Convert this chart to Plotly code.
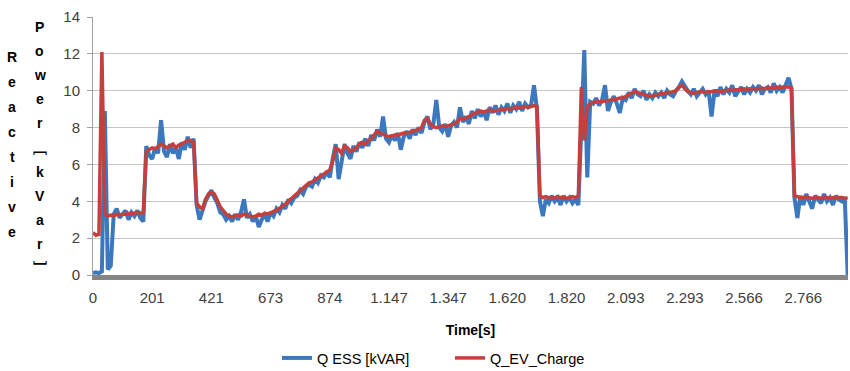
import plotly.graph_objects as go

# Sample labels shown on the category-style time axis (one label every 20 samples)
time_labels = ["0", "201", "421", "673", "874", "1.147", "1.347", "1.620",
               "1.820", "2.093", "2.293", "2.566", "2.766"]
samples_per_label = 20

# Q ESS [kVAR] - measured reactive power of the storage system
q_ess = [
    0.1, 0.15, 0.1, 0.2, 8.9, 0.3, 0.5, 3.3,
    3.6, 3.1, 3.3, 3.5, 3.0, 3.4, 3.2, 3.5, 3.1, 2.9,
    7.0, 6.5, 6.3, 6.9, 6.6, 8.4, 6.7, 6.4, 7.1, 6.6, 6.9, 6.3, 7.2, 6.8, 7.5, 6.9, 7.4,
    3.8, 3.0, 3.5, 4.0, 4.3, 4.6, 4.2, 3.9, 3.4, 3.3, 3.0, 3.2,
    2.9, 3.3, 3.0, 3.4, 4.1, 3.1, 3.3, 2.9, 3.2, 2.6, 3.0, 3.3, 2.9, 3.4,
    3.2, 3.6, 3.4, 3.8, 3.6, 4.1, 3.9, 4.2, 4.3, 4.6, 4.4, 4.8, 4.9, 4.8, 5.2, 5.0,
    5.4, 5.3, 5.6, 5.3, 6.3, 7.1,
    5.2, 6.2, 7.1, 6.6, 6.3, 7.0, 6.7, 7.2, 6.9, 7.4, 7.0, 7.6, 7.3,
    7.9, 7.5, 8.6, 7.4, 7.2, 7.6, 7.3, 7.7, 6.8, 7.5,
    7.8, 7.4, 7.9, 7.6, 8.0, 7.7, 8.3, 8.6, 7.9, 8.2,
    9.5, 8.0, 7.8, 8.2, 7.5, 8.1, 8.3, 8.0, 9.1,
    8.3, 8.6, 8.2, 8.9, 8.5, 9.0, 8.6, 8.9, 8.4, 9.1, 8.8, 9.2, 8.7, 9.1, 8.9, 9.3,
    8.8, 9.2, 9.0, 9.4, 8.9, 9.3, 9.1, 9.2, 10.3, 9.0,
    4.0, 3.2, 4.1, 3.9, 4.3, 4.0, 4.2, 3.8, 4.3, 4.0, 4.2, 3.9, 4.1, 3.8,
    7.5, 12.2, 5.3, 9.4,
    9.3, 9.6, 9.2, 9.5, 10.3, 8.9, 9.4, 9.7, 9.3, 8.8,
    9.6, 9.5, 9.9, 9.6, 10.1, 9.8, 9.7, 10.0, 9.5, 9.8,
    9.6, 9.9, 9.7, 9.9, 9.6, 10.0, 9.8, 9.7, 10.0, 10.2,
    10.5, 10.2, 10.0, 9.8, 10.1, 9.7, 9.9, 10.1, 9.8, 10.0, 8.6,
    10.0, 9.7, 10.2, 9.8, 10.1, 9.9, 10.3, 9.7, 10.0, 10.2,
    9.8, 10.1, 9.9, 10.2, 10.0, 10.3, 9.8, 10.1, 10.2, 9.9,
    10.4, 10.0, 10.2, 9.9, 10.3, 10.7, 10.1,
    4.2, 3.1, 4.3, 3.8, 4.4, 4.0, 3.6, 4.3, 4.1, 3.9, 4.4, 4.0, 4.2, 3.8, 4.3, 4.1,
    4.0, 4.2, 0.0,
]

# Q_EV_Charge - reactive power of the EV charger
q_ev = [
    2.3, 2.15, 2.2, 12.1, 3.3,
    3.2, 3.25, 3.2, 3.3, 3.25, 3.3, 3.3, 3.35, 3.3, 3.35, 3.4, 3.35, 3.4,
    6.7, 6.8, 6.9, 6.85, 7.0, 7.1, 7.0, 6.9, 7.0, 7.1, 6.9, 7.05, 7.1, 7.2, 7.3, 7.3, 7.2,
    3.9, 3.7, 3.6, 4.1, 4.4, 4.5, 4.4, 4.0, 3.7, 3.5, 3.3, 3.2,
    3.15, 3.2, 3.25, 3.2, 3.3, 3.25, 3.2, 3.15, 3.2, 3.3, 3.25, 3.35, 3.3, 3.4,
    3.45, 3.5, 3.6, 3.7, 3.85, 4.0, 4.15, 4.3, 4.4, 4.55, 4.7, 4.85, 5.0, 5.05,
    5.15, 5.25, 5.35, 5.45, 5.55, 5.7, 6.2, 6.9,
    6.8, 6.6, 7.0, 6.9, 6.7, 6.8, 6.9, 7.1, 7.2, 7.1, 7.3, 7.4, 7.6,
    7.8, 7.7, 7.65, 7.55, 7.5, 7.55, 7.6, 7.6, 7.65, 7.7,
    7.7, 7.75, 7.8, 7.85, 7.9, 8.0, 8.4, 8.5, 8.2, 8.05,
    8.0, 8.05, 8.1, 8.05, 8.1, 8.15, 8.2, 8.3, 8.5,
    8.45, 8.5, 8.6, 8.7, 8.8, 8.85, 8.9, 8.85, 8.9, 8.95, 8.9, 8.9, 8.95, 9.0, 9.0, 9.05,
    9.0, 9.05, 9.1, 9.05, 9.1, 9.15, 9.1, 9.15, 9.2, 9.15,
    4.3, 4.2, 4.25, 4.2, 4.15, 4.2, 4.25, 4.2, 4.2, 4.15, 4.2, 4.25, 4.2, 4.3,
    10.2, 7.3, 9.1, 9.3,
    9.35, 9.4, 9.4, 9.4, 9.45, 9.45, 9.5, 9.5, 9.55, 9.6,
    9.6, 9.7, 9.8, 9.9, 9.95, 9.9, 9.85, 9.8, 9.75, 9.7,
    9.7, 9.75, 9.8, 9.85, 9.85, 9.9, 9.9, 9.95, 10.0, 10.2,
    10.3, 10.1, 9.95, 9.9, 9.85, 9.9, 9.95, 9.95, 9.9, 9.95, 9.95,
    10.0, 10.0, 9.95, 10.0, 10.0, 10.05, 10.0, 10.05, 10.05, 10.05,
    10.1, 10.05, 10.1, 10.1, 10.1, 10.1, 10.15, 10.1, 10.15, 10.15,
    10.15, 10.2, 10.15, 10.2, 10.2, 10.2, 10.15,
    4.3, 4.25, 4.2, 4.2, 4.25, 4.2, 4.15, 4.2, 4.2, 4.15, 4.2, 4.2, 4.15, 4.2, 4.15,
    4.2, 4.2, 4.15, 4.2,
]

y_ticks = [0, 2, 4, 6, 8, 10, 12, 14]

W, H = 850, 371
L, R, T, B = 93, 2, 17, 96
PW, PH = W - L - R, H - T - B


def px_x(px):
    return (px - L) / PW


def px_y(py):
    return (H - B - py) / PH


FONT = "Liberation Sans, Arial, Noto Sans CJK SC, sans-serif"

fig = go.Figure()
fig.add_trace(go.Scatter(
    x=list(range(len(q_ess))), y=q_ess, mode="lines", name="Q ESS [kVAR]",
    line=dict(color="#3c78be", width=4),
))
fig.add_trace(go.Scatter(
    x=list(range(len(q_ev))), y=q_ev, mode="lines", name="Q_EV_Charge",
    line=dict(color="#c3403d", width=3.5),
))

n_last = max(len(q_ess), len(q_ev)) - 1
fig.update_xaxes(
    range=[0, n_last + 0.1],
    tickmode="array",
    tickvals=[i * samples_per_label for i in range(len(time_labels))],
    ticktext=time_labels,
    showgrid=False, zeroline=False,
    showline=True, linecolor="#858585", linewidth=5,
    ticks="", ticklabelstandoff=5,
    tickfont=dict(family=FONT, size=15, color="#404040"),
    title=dict(text="<b>Time[s]</b>", standoff=22,
               font=dict(family=FONT, size=14, color="#000000")),
)
fig.update_yaxes(
    range=[0, 14], tickvals=y_ticks,
    showgrid=True, gridcolor="#c6c6c6", gridwidth=1, zeroline=False,
    showline=True, linecolor="#a0a0a0", linewidth=1,
    ticks="outside", ticklen=5, tickcolor="#a0a0a0",
    ticklabelstandoff=4,
    tickfont=dict(family=FONT, size=15, color="#404040"),
)

# Stacked vertical axis title, one character per line in two columns
col1 = "Reactive"
col2 = ["P", "o", "w", "e", "r", "\ufe47", "k", "V", "a", "r", "\ufe48"]
annotations = []
for i, ch in enumerate(col1):
    yy = 57 + i * (232 - 57) / (len(col1) - 1)
    annotations.append(dict(x=px_x(12), y=px_y(yy), xref="paper", yref="paper",
                            text="<b>%s</b>" % ch, showarrow=False,
                            xanchor="center", yanchor="middle",
                            font=dict(family=FONT, size=14, color="#000000")))
for i, ch in enumerate(col2):
    yy = 27 + i * (268 - 27) / (len(col2) - 1)
    annotations.append(dict(x=px_x(40), y=px_y(yy), xref="paper", yref="paper",
                            text="<b>%s</b>" % ch, showarrow=False,
                            xanchor="center", yanchor="middle",
                            font=dict(family=FONT, size=14, color="#000000")))

fig.update_layout(
    width=W, height=H,
    margin=dict(l=L, r=R, t=T, b=B, autoexpand=False),
    paper_bgcolor="white", plot_bgcolor="white",
    font=dict(family=FONT),
    showlegend=True,
    legend=dict(orientation="h", x=px_x(277), xanchor="left",
                y=px_y(358), yanchor="middle",
                font=dict(family=FONT, size=14.5, color="#000000"),
                itemwidth=30, tracegroupgap=0,
                entrywidth=128, entrywidthmode="pixels"),
    annotations=annotations,
)

fig.write_html("out.html")
